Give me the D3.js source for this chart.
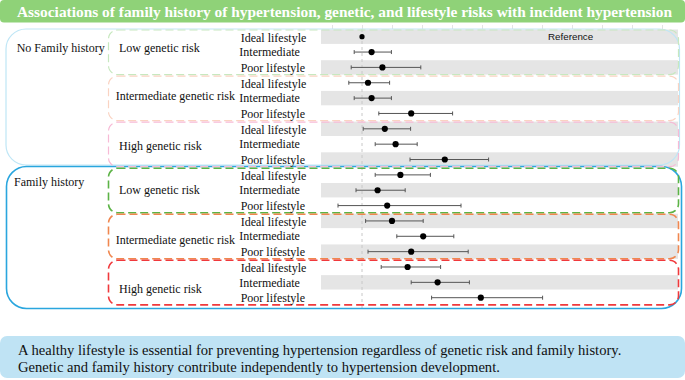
<!DOCTYPE html>
<html>
<head>
<meta charset="utf-8">
<script src="https://cdn.jsdelivr.net/npm/d3@7"></script>
<style>
  html, body { margin: 0; padding: 0; background: #fff; }
  svg { display: block; }
</style>
</head>
<body>
<div id="chart"></div>
<script>
// ---------------- data ----------------
const titleText = "Associations of family history of hypertension, genetic, and lifestyle risks with incident hypertension";
const familyGroups = ["No Family history", "Family history"];
const geneticGroups = ["Low genetic risk", "Intermediate genetic risk", "High genetic risk"];
const lifestyles = ["Ideal lifestyle", "Intermediate", "Poor lifestyle"];
// hazard ratios (18 rows: family x genetic x lifestyle)
const hr    = [1.00, 1.16, 1.34, 1.10, 1.16, 1.82, 1.38, 1.56, 2.38, 1.64, 1.26, 1.42, 1.50, 2.02, 1.82, 1.76, 2.26, 2.98];
const lower = [null, 0.87, 0.82, 0.78, 0.87, 1.28, 1.02, 1.22, 1.80, 1.22, 0.90, 0.60, 1.06, 1.58, 1.10, 1.32, 1.82, 2.16];
const upper = [null, 1.49, 1.98, 1.46, 1.49, 2.51, 1.81, 1.92, 3.11, 2.14, 1.72, 2.65, 2.02, 2.53, 2.77, 2.31, 2.79, 4.01];
const referenceLabel = "Reference";
const tickValues = [0.5, 1, 1.5, 2, 2.5, 3, 3.5, 4, 4.5, 5, 5.5, 6];
const conclusionLines = [
  "A healthy lifestyle is essential for preventing hypertension regardless of genetic risk and family history.",
  "Genetic and family history contribute independently to hypertension development."
];

// ---------------- layout ----------------
const W = 685, H = 380;
const serif = "'Liberation Serif', 'Times New Roman', serif";
const sans = "'Liberation Sans', Arial, sans-serif";

const svg = d3.select("#chart").append("svg")
  .attr("width", W).attr("height", H);

const rows = [];
familyGroups.forEach((f, fi) => geneticGroups.forEach((g, gi) => lifestyles.forEach((l, li) => {
  rows.push({f, g, l, fi, gi, li, i: rows.length});
})));
rows.forEach((r, i) => { r.hr = hr[i]; r.lo = lower[i]; r.hi = upper[i]; });

const x = d3.scaleLinear().domain([0, 6]).range([302, 662]);
const y = d3.scaleLinear().domain([0, rows.length - 1]).range([36.7, 297.7]);
const rowH = y(1) - y(0);

// title bar
svg.append("rect").attr("x", 0).attr("y", 0).attr("width", W).attr("height", 22.5)
  .attr("rx", 4).attr("fill", "#8fd278");
svg.append("text").attr("x", 17).attr("y", 16.5)
  .attr("font-family", serif).attr("font-weight", "bold").attr("font-size", 14.5)
  .attr("fill", "#fff").attr("textLength", 655).attr("lengthAdjust", "spacingAndGlyphs")
  .text(titleText);

// gray bands
svg.append("g").selectAll("rect").data(rows.filter(r => r.i % 2 === 0)).join("rect")
  .attr("x", 321).attr("width", 357)
  .attr("y", d => y(d.i) - 7.2).attr("height", 14.4)
  .attr("fill", "#e5e5e5");

// top tick marks
const axisG = svg.append("g").attr("transform", "translate(0,29)")
  .call(d3.axisTop(x).tickValues(tickValues).tickSize(4).tickFormat(""));
axisG.select(".domain").remove();
axisG.selectAll("line").attr("stroke", "#e3e3e3");

// reference dashed line
svg.append("line").attr("x1", x(1)).attr("x2", x(1)).attr("y1", 29).attr("y2", 309)
  .attr("stroke", "#c8c8c8").attr("stroke-width", 1).attr("stroke-dasharray", "3,3");

// outer family boxes
const outerStyles = [
  {color: "#bfe6f6", width: 1.2, x0: 6, x1: 679.5},
  {color: "#2aa6de", width: 1.6, x0: 6.5, x1: 681.5}
];
familyGroups.forEach((f, fi) => {
  const s = outerStyles[fi];
  const top = fi === 0 ? 29 : 166.5;
  const bot = fi === 0 ? 165 : 308.5;
  svg.append("rect").attr("x", s.x0).attr("y", top).attr("width", s.x1 - s.x0).attr("height", bot - top)
    .attr("rx", 20).attr("fill", "none").attr("stroke", s.color).attr("stroke-width", s.width);
});

// inner genetic dashed boxes
const innerColors = ["#c7e8bf", "#fad3c2", "#f7bad6", "#5cb346", "#f0874f", "#f0393c"];
const innerWidths = [1.2, 1.2, 1.2, 1.6, 1.6, 1.6];
for (let k = 0; k < 6; k++) {
  const top = y(3 * k) - rowH / 2 + 1;
  const bot = y(3 * k + 2) + rowH / 2 - 0.5;
  svg.append("rect").attr("x", 108.5).attr("y", top).attr("width", 570).attr("height", bot - top)
    .attr("rx", 9).attr("fill", "none").attr("stroke", innerColors[k])
    .attr("stroke-width", innerWidths[k]).attr("stroke-dasharray", "8,4");
}

// family labels
const famLabelPos = [{x: 16.7, y: 48}, {x: 14, y: 181.5}];
familyGroups.forEach((f, fi) => {
  svg.append("text").attr("x", famLabelPos[fi].x).attr("y", famLabelPos[fi].y)
    .attr("dy", "0.35em").attr("font-family", serif).attr("font-size", 12)
    .attr("fill", "#111").text(f);
});

// genetic labels
const genLabelY = [47.3, 96, 145.7, 190, 239.3, 288.3];
const genLabelX = [119, 115.7, 119];
for (let k = 0; k < 6; k++) {
  svg.append("text").attr("x", genLabelX[k % 3]).attr("y", genLabelY[k]).attr("dy", "0.35em")
    .attr("font-family", serif).attr("font-size", 12).attr("fill", "#111")
    .text(geneticGroups[k % 3]);
}

// lifestyle labels
svg.append("g").selectAll("text").data(rows).join("text")
  .attr("x", d => d.li === 1 ? 239.3 : 240.7)
  .attr("y", d => y(d.i) + (d.li === 0 ? 1 : 0)).attr("dy", "0.35em")
  .attr("font-family", serif).attr("font-size", 12).attr("fill", "#111")
  .text(d => d.l);

// CI lines
const ci = rows.filter(r => r.lo != null);
const ciG = svg.append("g").attr("stroke", "#555").attr("stroke-width", 1);
ciG.selectAll("line.ci").data(ci).join("line").attr("class", "ci")
  .attr("x1", d => x(d.lo)).attr("x2", d => x(d.hi))
  .attr("y1", d => y(d.i)).attr("y2", d => y(d.i));
ciG.selectAll("line.capl").data(ci).join("line").attr("class", "capl")
  .attr("x1", d => x(d.lo)).attr("x2", d => x(d.lo))
  .attr("y1", d => y(d.i) - 2).attr("y2", d => y(d.i) + 2);
ciG.selectAll("line.caph").data(ci).join("line").attr("class", "caph")
  .attr("x1", d => x(d.hi)).attr("x2", d => x(d.hi))
  .attr("y1", d => y(d.i) - 2).attr("y2", d => y(d.i) + 2);

// points
svg.append("g").selectAll("circle").data(rows).join("circle")
  .attr("cx", d => x(d.hr)).attr("cy", d => y(d.i))
  .attr("r", d => d.lo == null ? 2.6 : 3.1).attr("fill", "#000");

// reference label
svg.append("text").attr("x", 548).attr("y", y(0)).attr("dy", "0.35em")
  .attr("font-family", sans).attr("font-size", 9.8).attr("fill", "#111")
  .text(referenceLabel);

// conclusion box
svg.append("rect").attr("x", 0).attr("y", 336).attr("width", W).attr("height", 42)
  .attr("rx", 7).attr("fill", "#bfe3f4");
conclusionLines.forEach((t, i) => {
  svg.append("text").attr("x", 18).attr("y", 355 + i * 16.5)
    .attr("font-family", serif).attr("font-size", 14.6).attr("fill", "#111").text(t);
});
</script>
</body>
</html>
